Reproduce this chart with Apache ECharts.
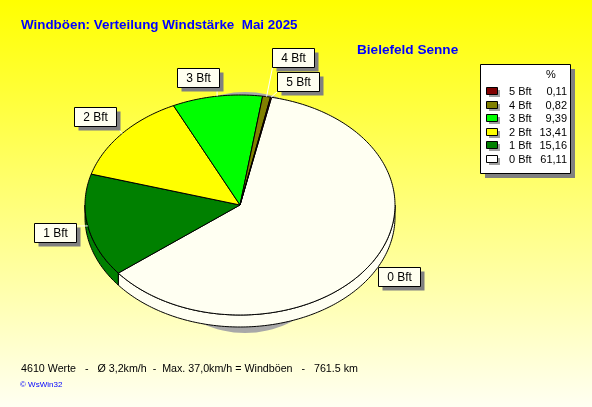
<!DOCTYPE html>
<html><head><meta charset="utf-8">
<script src="https://cdn.jsdelivr.net/npm/echarts@6/dist/echarts.min.js"></script>
<style>html,body{margin:0;padding:0;}#c{width:592px;height:407px;}</style>
</head><body><div id="c"></div>
<script>
// ---- data ----
const categories = ['0 Bft', '1 Bft', '2 Bft', '3 Bft', '4 Bft', '5 Bft'];
const percent = [61.11, 15.16, 13.41, 9.39, 0.82, 0.11];
const percentLabels = ['61,11', '15,16', '13,41', '9,39', '0,82', '0,11'];
const titleText = 'Windböen: Verteilung Windstärke  Mai 2025';
const stationText = 'Bielefeld Senne';
const footerText = '4610 Werte   -   Ø 3,2km/h  -  Max. 37,0km/h = Windböen   -   761.5 km';
const creditText = '© WsWin32';

// ---- styles / layout ----
const colors = ['#fffff2', '#008000', '#ffff00', '#00ff00', '#808000', '#800000'];
const legendColors = ['#ffffff', '#008000', '#ffff00', '#00ff00', '#808000', '#800000'];
const CX = 240, CY = 205, RX = 155, RY = 110, DEPTH = 12, START = 11.75;
const labelOffsets = [[6, 4], [-54, -3], [-48, -27], [-40, -28], [5, -49], [6, -25]];
const BOXW = 42, BOXH = 19;

const total = percent.reduce((a, b) => a + b, 0);
function pt(theta, dy) {
  const r = theta * Math.PI / 180;
  return [CX + RX * Math.sin(r), CY - RY * Math.cos(r) + (dy || 0)];
}
function arc(a, b, dy) {
  const pts = [];
  const n = Math.max(1, Math.ceil(Math.abs(b - a)));
  for (let k = 0; k <= n; k++) pts.push(pt(a + (b - a) * k / n, dy));
  return pts;
}

function renderItem(params, api) {
  const i = params.dataIndex;
  let before = 0;
  for (let j = 0; j < i; j++) before += percent[j];
  const a = START + 360 * before / total;
  const b = a + 360 * api.value(0) / total;
  const children = [];
  const wa = Math.max(a, 90), wb = Math.min(b, 270);
  if (wa < wb) {
    children.push({
      type: 'polygon', z2: 1,
      shape: { points: arc(wa, wb, 0).concat(arc(wb, wa, DEPTH)) },
      style: { fill: colors[i], stroke: '#000', lineWidth: 1 }
    });
  }
  children.push({
    type: 'polygon', z2: 2,
    shape: { points: [[CX, CY]].concat(arc(a, b, 0)) },
    style: { fill: colors[i], stroke: '#000', lineWidth: 1 }
  });
  // label
  const mid = (a + b) / 2;
  const an = pt(mid, 0);
  const bx = Math.round(an[0] + labelOffsets[i][0]) + 0.5;
  const by = Math.round(an[1] + labelOffsets[i][1]) + 0.5;
  const nx = Math.min(Math.max(an[0], bx), bx + BOXW);
  const ny = Math.min(Math.max(an[1], by), by + BOXH);
  children.push({
    type: 'line', z2: 3,
    shape: { x1: an[0], y1: an[1], x2: nx, y2: ny },
    style: { stroke: '#ffffff', lineWidth: 1 }
  });
  children.push({
    type: 'rect', z2: 4,
    shape: { x: bx + 4, y: by + 4, width: BOXW, height: BOXH },
    style: { fill: '#808080' }
  });
  children.push({
    type: 'rect', z2: 5,
    shape: { x: bx, y: by, width: BOXW, height: BOXH },
    style: { fill: '#fffff0', stroke: '#000', lineWidth: 1 }
  });
  children.push({
    type: 'text', z2: 6,
    style: { text: categories[i], x: bx + BOXW / 2, y: by + BOXH / 2 + 1, align: 'center', verticalAlign: 'middle',
      font: '12px Arial, "Liberation Sans", sans-serif', fill: '#000' }
  });
  return { type: 'group', children: children };
}

// legend graphic (order 5 Bft at top)
const legendEls = [];
const LX = 480, LY = 64, LW = 90, LH = 109;
legendEls.push({ type: 'rect', z: 10, shape: { x: LX + 5, y: LY + 5, width: LW, height: LH }, style: { fill: '#808080' } });
legendEls.push({ type: 'rect', z: 11, shape: { x: LX + 0.5, y: LY + 0.5, width: LW, height: LH }, style: { fill: '#ffffff', stroke: '#000', lineWidth: 1 } });
legendEls.push({ type: 'text', z: 12, style: { text: '%', x: 551, y: 75, align: 'center', verticalAlign: 'middle', font: '11px Arial, "Liberation Sans", sans-serif', fill: '#000' } });
for (let r = 0; r < categories.length; r++) {
  const i = categories.length - 1 - r;
  const y = 92 + r * 13.5;
  legendEls.push({ type: 'rect', z: 12, shape: { x: 489, y: Math.round(y) - 2, width: 11, height: 7 }, style: { fill: '#a0a0a0' } });
  legendEls.push({ type: 'rect', z: 13, shape: { x: 486.5, y: Math.round(y) - 4.5, width: 11, height: 7 }, style: { fill: legendColors[i], stroke: '#000', lineWidth: 1 } });
  legendEls.push({ type: 'text', z: 13, style: { text: categories[i], x: 509, y: y, align: 'left', verticalAlign: 'middle', font: '11px Arial, "Liberation Sans", sans-serif', fill: '#000' } });
  legendEls.push({ type: 'text', z: 13, style: { text: percentLabels[i], x: 567, y: y, align: 'right', verticalAlign: 'middle', font: '11px Arial, "Liberation Sans", sans-serif', fill: '#000' } });
}

const chart = echarts.init(document.getElementById('c'), null, { renderer: 'canvas' });
chart.setOption({
  animation: false,
  backgroundColor: { type: 'linear', x: 0, y: 0, x2: 0, y2: 1,
    colorStops: [{ offset: 0, color: '#ffff00' }, { offset: 1, color: '#fffff2' }] },
  title: [
    { text: titleText, left: 21, top: 19, padding: 0,
      textStyle: { color: '#0000ff', fontWeight: 'bold', fontSize: 13.4, fontFamily: 'Arial, "Liberation Sans", sans-serif' } },
    { text: stationText, left: 357, top: 43, padding: 0,
      textStyle: { color: '#0000ff', fontWeight: 'bold', fontSize: 13.6, fontFamily: 'Arial, "Liberation Sans", sans-serif' } },
    { text: footerText, left: 21, top: 364, padding: 0,
      textStyle: { color: '#000', fontWeight: 'normal', fontSize: 10.7, fontFamily: 'Arial, "Liberation Sans", sans-serif' } },
    { text: creditText, left: 20, top: 381, padding: 0,
      textStyle: { color: '#0000ff', fontWeight: 'normal', fontSize: 8, fontFamily: 'Arial, "Liberation Sans", sans-serif' } }
  ],
  graphic: [
    { type: 'ellipse', z: 1, shape: { cx: 245, cy: 212.5, rx: 110, ry: 120.5 }, style: { fill: '#a8a8a8' } }
  ].concat(legendEls),
  series: [{
    type: 'custom',
    coordinateSystem: 'none',
    z: 5,
    renderItem: renderItem,
    data: percent.map((v, i) => ({ value: v, name: categories[i] }))
  }]
});
</script></body></html>
